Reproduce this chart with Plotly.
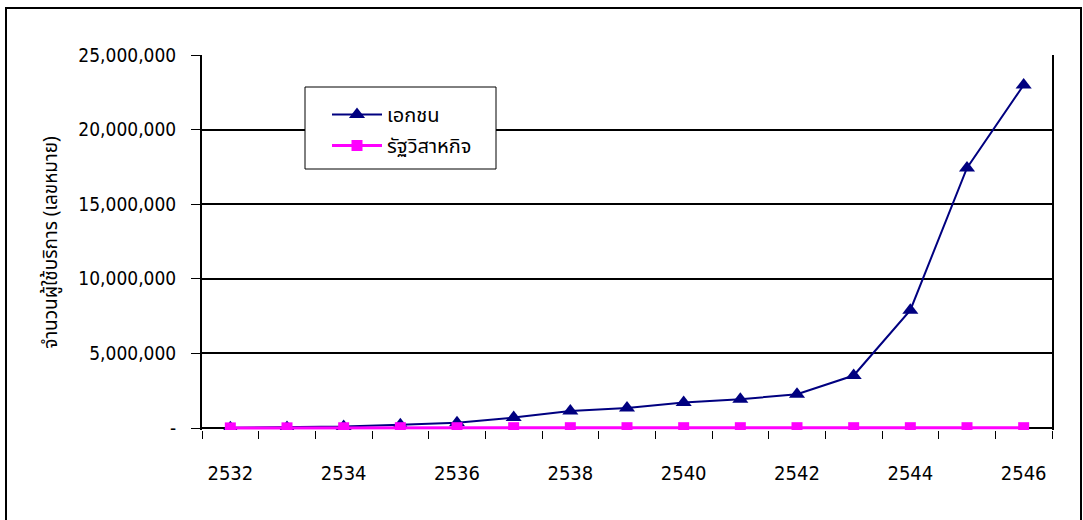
import plotly.graph_objects as go

# Mobile phone subscribers by operator type, Thai Buddhist years 2532-2546
years = [2532, 2533, 2534, 2535, 2536, 2537, 2538, 2539, 2540,
         2541, 2542, 2543, 2544, 2545, 2546]
private_sector = [20000, 40000, 100000, 230000, 360000, 700000, 1150000, 1340000,
                  1720000, 1930000, 2270000, 3520000, 7900000, 17430000, 22990000]
state_enterprise = [10000, 15000, 20000, 25000, 25000, 25000, 25000, 25000,
                    25000, 25000, 25000, 25000, 25000, 25000, 25000]

y_ticks = [0, 5000000, 10000000, 15000000, 20000000, 25000000]
y_tick_text = ["-", "5,000,000", "10,000,000", "15,000,000", "20,000,000", "25,000,000"]
x_label_years = [2532, 2534, 2536, 2538, 2540, 2542, 2544, 2546]

NARROW = "DejaVu Sans Condensed, Liberation Sans Narrow, sans-serif"
THAI = "Tahoma, Noto Sans Thai, Loma, Garuda, sans-serif"

# plot area in pixels
PL, PR, PT, PB = 202, 1052, 55, 430
PW, PH = PR - PL, PB - PT
Y_MIN = -130000  # a sliver below zero so the baseline series is not clipped

def px_x(p):
    return (p - PL) / PW

def px_y(p):
    return (PB - p) / PH

fig = go.Figure()
fig.add_trace(go.Scatter(
    x=years, y=private_sector, name="เอกชน", mode="lines+markers",
    legendgroup="a",
    line=dict(color="#000080", width=2),
    marker=dict(symbol="triangle-up", size=14, color="#000080"),
))
fig.add_trace(go.Scatter(
    x=years, y=state_enterprise, name="รัฐวิสาหกิจ", mode="lines+markers",
    legendgroup="b",
    line=dict(color="#ff00ff", width=3),
    marker=dict(symbol="square", size=11, color="#ff00ff"),
))

# category boundaries for the x tick marks
boundaries = [y - 0.5 for y in years] + [years[-1] + 0.5]

fig.update_layout(
    width=1083, height=520,
    margin=dict(l=PL, r=1083 - PR, t=PT, b=520 - PB),
    paper_bgcolor="white", plot_bgcolor="white",
    showlegend=True,
    legend=dict(
        x=px_x(327), y=px_y(95), xanchor="left", yanchor="top",
        bgcolor="rgba(0,0,0,0)", borderwidth=0,
        font=dict(family=THAI, size=20, color="#000000"),
        traceorder="grouped", tracegroupgap=2, itemwidth=50,
    ),
    xaxis=dict(
        range=[years[0] - 0.5, years[-1] + 0.5],
        tickvals=x_label_years, ticktext=[str(v) for v in x_label_years],
        ticks="", showgrid=False, zeroline=False,
        showline=False,
        tickfont=dict(family=NARROW, size=20, color="#000000"),
        ticklabelstandoff=29,
        minor=dict(tickvals=boundaries, ticks="outside", ticklen=8,
                   tickcolor="#000000", tickwidth=1, showgrid=False),
    ),
    yaxis=dict(
        range=[Y_MIN, 25000000],
        tickvals=y_ticks, ticktext=y_tick_text,
        ticks="outside", ticklen=9, tickcolor="#000000", tickwidth=1,
        showgrid=True, gridcolor="#000000", gridwidth=2,
        zeroline=False,
        showline=True, linecolor="#000000", linewidth=2, mirror=True,
        layer="below traces",
        tickfont=dict(family=NARROW, size=19, color="#000000"),
        ticklabelstandoff=11,
        title=dict(text="จำนวนผู้ใช้บริการ (เลขหมาย)",
                   font=dict(family=THAI, size=19, color="#000000"),
                   standoff=16),
    ),
    shapes=[
        # outer chart frame
        dict(type="rect", xref="paper", yref="paper",
             x0=px_x(6), x1=px_x(1081), y0=px_y(522), y1=px_y(8),
             line=dict(color="#000000", width=2), layer="below"),
        # legend box
        dict(type="rect", xref="paper", yref="paper",
             x0=px_x(305), x1=px_x(496), y0=px_y(169), y1=px_y(87),
             line=dict(color="#000000", width=1), fillcolor="white",
             layer="above"),
    ],
)

fig.write_html("out.html")
